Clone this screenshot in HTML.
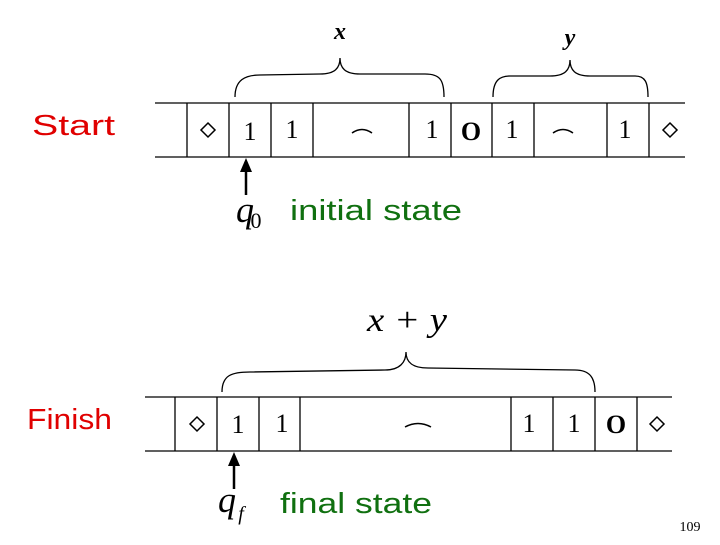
<!DOCTYPE html>
<html><head><style>
body{margin:0;width:720px;height:540px;background:#fff;overflow:hidden}
</style></head><body>
<svg width="720" height="540" xmlns="http://www.w3.org/2000/svg">
<g font-family="Liberation Sans, sans-serif" font-size="29">
<text x="32" y="135" fill="#e00000" textLength="83" lengthAdjust="spacingAndGlyphs">Start</text>
<text x="27" y="429" fill="#e00000" textLength="85" lengthAdjust="spacingAndGlyphs">Finish</text>
<text x="290" y="220" fill="#107010" textLength="172" lengthAdjust="spacingAndGlyphs">initial state</text>
<text x="280" y="513" fill="#107010" textLength="152" lengthAdjust="spacingAndGlyphs">final state</text>
</g>
<g stroke="#000" stroke-width="1.3" fill="none">
<line x1="155" y1="103" x2="685" y2="103"/><line x1="155" y1="157" x2="685" y2="157"/>
<path d="M187 103V157M229 103V157M271 103V157M313 103V157M409 103V157M451 103V157M492 103V157M534 103V157M607 103V157M649 103V157"/>
<line x1="145" y1="397" x2="672" y2="397"/><line x1="145" y1="451" x2="672" y2="451"/>
<path d="M175 397V451M217 397V451M259 397V451M300 397V451M511 397V451M553 397V451M595 397V451M637 397V451"/>
<path d="M235 97 C235 80 245 75 260 75 L320 74 C335 74 340 68 340 58 C340 68 345 74 360 74 L425 74 C440 74 444 80 444 97"/>
<path d="M493 97 C493 80 500 76 510 76 L550 76 C565 76 570 70 570 60 C570 70 575 76 590 76 L635 76 C645 76 648 82 648 97"/>
<path d="M222 392 C222 375 232 372 250 372 L385 370 C400 370 406 362 406 352 C406 362 412 368 428 368 L575 370 C590 370 595 378 595 392"/>
</g>
<g font-family="Liberation Serif, serif" font-size="26" text-anchor="middle">
<text x="250" y="140">1</text><text x="292" y="138">1</text><text x="432" y="138">1</text>
<text x="512" y="138">1</text><text x="625" y="138">1</text>
<text x="471" y="140" font-weight="bold">O</text>
<text x="238" y="433">1</text><text x="282" y="432">1</text><text x="529" y="432">1</text><text x="574" y="432">1</text>
<text x="616" y="433" font-weight="bold">O</text>
<text x="340" y="39" font-style="italic" font-weight="bold" font-size="24">x</text>
<text x="570" y="45" font-style="italic" font-weight="bold" font-size="24">y</text>
<text x="407" y="331" font-style="italic" font-size="34" textLength="80" lengthAdjust="spacingAndGlyphs">x + y</text>
<text x="245" y="222" font-style="italic" font-size="36">q</text><text x="256" y="228" font-size="22">0</text>
<text x="227" y="512" font-style="italic" font-size="36">q</text><text x="241" y="520" font-style="italic" font-size="20">f</text>
<text x="690" y="531" font-size="14">109</text>
</g>
<g stroke="#000" stroke-width="1.5" fill="none">
<path d="M208 123 L215 130 L208 137 L201 130 Z"/>
<path d="M670 123 L677 130 L670 137 L663 130 Z"/>
<path d="M197 417 L204 424 L197 431 L190 424 Z"/>
<path d="M657 417 L664 424 L657 431 L650 424 Z"/>
</g>
<g stroke="#000" fill="none" stroke-width="1.5">
<path d="M352 133 Q362 126 372 133"/><path d="M553 133 Q563 126 573 133"/><path d="M405 427 Q418 420 431 427"/>
</g>
<g stroke="#000" stroke-width="2.5" fill="#000">
<line x1="246" y1="195" x2="246" y2="170"/><polygon points="240,172 252,172 246,158" stroke="none"/>
<line x1="234" y1="489" x2="234" y2="464"/><polygon points="228,466 240,466 234,452" stroke="none"/>
</g>
</svg>
</body></html>
